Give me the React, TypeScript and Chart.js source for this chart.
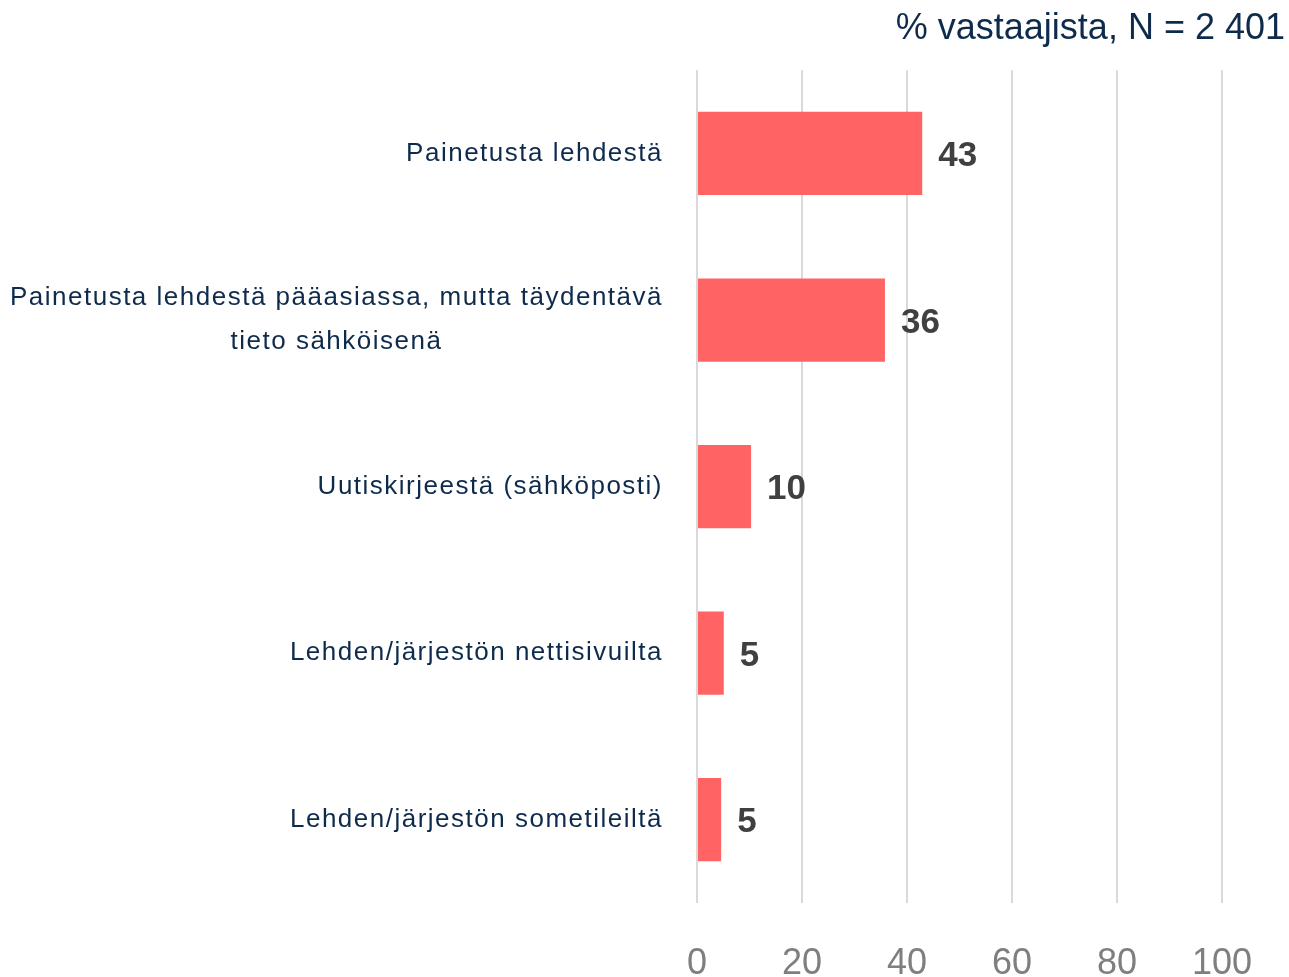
import React, { useEffect, useRef } from "react";
import { Chart, registerables } from "chart.js";

Chart.register(...registerables);

const categories: (string | string[])[] = [
  "Painetusta lehdestä",
  ["Painetusta lehdestä pääasiassa, mutta täydentävä", "tieto sähköisenä"],
  "Uutiskirjeestä (sähköposti)",
  "Lehden/järjestön nettisivuilta",
  "Lehden/järjestön sometileiltä",
];
const values = [42.9, 35.8, 10.3, 5.1, 4.6];
const labels = ["43", "36", "10", "5", "5"];
const titleText = "% vastaajista, N = 2 401";
const xMin = 0;
const xMax = 100;
const xStep = 20;

const FONT = "'Liberation Sans', Arial, Helvetica, sans-serif";
const NAVY = "#0e2b4c";
const SPACING = 1.5;

const valueLabelPlugin = {
  id: "valueLabels",
  afterDatasetsDraw(chart: any) {
    const ctx = chart.ctx;
    const meta = chart.getDatasetMeta(0);
    ctx.save();
    ctx.font = `bold 35px ${FONT}`;
    ctx.fillStyle = "#404040";
    ctx.textAlign = "left";
    ctx.textBaseline = "middle";
    meta.data.forEach((bar: any, i: number) => {
      ctx.fillText(labels[i], bar.x + 16, bar.y + 3);
    });
    ctx.restore();
  },
};

export default function App() {
  const ref = useRef<HTMLCanvasElement | null>(null);
  useEffect(() => {
    if (!ref.current) return;
    const chart = new Chart(ref.current, {
      type: "bar",
      data: {
        labels: categories,
        datasets: [
          {
            data: values,
            backgroundColor: "#ff6363",
            borderWidth: 0,
            barPercentage: 0.5,
            categoryPercentage: 1,
          },
        ],
      },
      options: {
        indexAxis: "y",
        responsive: false,
        animation: false,
        layout: { padding: { left: 0, right: 4, top: 0, bottom: 0 } },
        plugins: {
          legend: { display: false },
          tooltip: { enabled: false },
          title: {
            display: true,
            text: titleText,
            align: "end",
            color: NAVY,
            font: { family: FONT, size: 36, weight: "normal", lineHeight: 1.2 },
            padding: { top: 7, bottom: 20 },
          },
        },
        scales: {
          x: {
            min: xMin,
            max: xMax,
            ticks: {
              stepSize: xStep,
              color: "#7f7f7f",
              font: { family: FONT, size: 36, lineHeight: 1.2 },
              padding: 39,
            },
            grid: { color: "#d9d9d9", lineWidth: 2, drawTicks: false },
            border: { display: false },
            afterFit(scale: any) {
              scale.height = 74;
              scale.paddingRight = 67;
            },
          },
          y: {
            ticks: {
              color: NAVY,
              font: { family: FONT, size: 26, lineHeight: 1.7 },
              padding: 34,
            },
            grid: { display: false, drawTicks: false },
            border: { display: false },
            afterFit(scale: any) {
              scale.width = 697;
              if (!scale.__spaced) {
                scale.__spaced = true;
                const orig = scale.drawLabels.bind(scale);
                scale.drawLabels = (area: any) => {
                  const c = scale.ctx;
                  c.save();
                  c.letterSpacing = `${SPACING}px`;
                  const items = scale.getLabelItems(area);
                  items.forEach((item: any) => {
                    if (Array.isArray(item.label) && !item.__centered) {
                      item.__centered = true;
                      c.font = item.font.string;
                      let w = 0;
                      item.label.forEach((line: string) => {
                        w = Math.max(w, c.measureText(line).width - SPACING);
                      });
                      item.options.textAlign = "center";
                      item.options.translation[0] -= w / 2 + SPACING / 2;
                    }
                  });
                  orig(area);
                  c.restore();
                };
              }
            },
          },
        },
      },
      plugins: [valueLabelPlugin],
    });
    return () => chart.destroy();
  }, []);
  return (
    <canvas
      ref={ref}
      width={1289}
      height={977}
      style={{ position: "absolute", left: 0, top: 0, display: "block" }}
    />
  );
}
